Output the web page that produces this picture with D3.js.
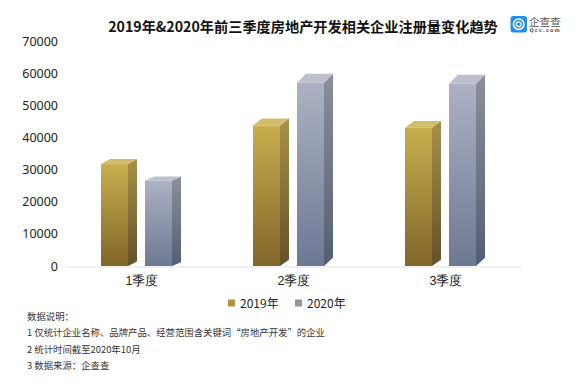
<!DOCTYPE html>
<html>
<head>
<meta charset="utf-8">
<script src="https://cdn.jsdelivr.net/npm/d3@7"></script>
<style>
html, body { margin: 0; padding: 0; background: #fff; }
svg { display: block; font-family: "Noto Sans CJK SC", "Noto Sans", sans-serif; }
</style>
</head>
<body>
<div id="chart"></div>
<script>
const quarters = ['1季度', '2季度', '3季度'];
const seriesNames = ['2019年', '2020年'];
const values2019 = [31700, 43700, 43000];
const values2020 = [26500, 57000, 56700];
const yTicks = [0, 10000, 20000, 30000, 40000, 50000, 60000, 70000];
const titleText = '2019年&2020年前三季度房地产开发相关企业注册量变化趋势';
const notes = [
    '数据说明：',
    '1 仅统计企业名称、品牌产品、经营范围含关键词“房地产开发”的企业',
    '2 统计时间截至2020年10月',
    '3 数据来源：企查查'
];

const width = 582;
const height = 388;
const depthX = 9;

const svg = d3.select('#chart').append('svg')
    .attr('width', width)
    .attr('height', height);

const palettes = [
    {front: ['#c8ae4f', '#836529'], side: ['#a8904a', '#65502a'], top: '#d2bd6c', key: '#b0933c'},
    {front: ['#acb2c3', '#6d7892'], side: ['#8b8f9d', '#545e74'], top: '#bcc0cc', key: '#8d94aa'}
];

const defs = svg.append('defs');
palettes.forEach((p, i) => {
    ['front', 'side'].forEach(part => {
        const g = defs.append('linearGradient')
            .attr('id', `${part}${i}`)
            .attr('x1', 0).attr('y1', 0).attr('x2', 0).attr('y2', 1);
        g.append('stop').attr('offset', '0%').attr('stop-color', p[part][0]);
        g.append('stop').attr('offset', '100%').attr('stop-color', p[part][1]);
    });
});

const x = d3.scaleBand().domain(quarters).range([65, 521]);
const xInner = d3.scaleBand().domain(seriesNames).range([-40, 31]).paddingInner(17 / 44);
const y = d3.scaleLinear().domain([0, 70000]).range([266, 41]);

// the top face gets deeper on taller bars, the picture has some perspective
const depthTop = d => (y(0) - y(d)) * 0.05;
const depthBase = d => depthTop(d) * 0.9;

// axes
const yAxis = d3.axisLeft(y).tickValues(yTicks).tickSize(0).tickPadding(7).tickFormat(d3.format('d'));
const gy = svg.append('g').attr('transform', 'translate(65,0)').call(yAxis);
gy.select('.domain').remove();
gy.selectAll('text').attr('font-size', 12.5).attr('fill', '#222').attr('font-family', '"Noto Sans", sans-serif');

const xAxis = d3.axisBottom(x).tickSize(0).tickPadding(10);
const gx = svg.append('g').attr('transform', 'translate(0,266.5)').call(xAxis);
gx.select('.domain').attr('stroke', '#e2e2e2');
gx.selectAll('text').attr('font-size', 12.5).attr('fill', '#222').attr('dx', 1);

// 3d bars
[values2019, values2020].forEach((vals, i) => {
    const bars = svg.append('g').selectAll('g')
        .data(vals)
        .enter().append('g')
        .attr('transform', (d, j) => `translate(${x(quarters[j]) + x.bandwidth() / 2 + xInner(seriesNames[i])},0)`);
    const w = xInner.bandwidth();

    bars.append('path')
        .attr('fill', `url(#side${i})`)
        .attr('d', d => `M${w},${y(d)}L${w + depthX},${y(d) - depthTop(d)}L${w + depthX},${y(0) - depthBase(d)}L${w},${y(0)}Z`);
    bars.append('path')
        .attr('fill', palettes[i].top)
        .attr('d', d => `M0,${y(d)}L${depthX},${y(d) - depthTop(d)}L${w + depthX},${y(d) - depthTop(d)}L${w},${y(d)}Z`);
    bars.append('rect')
        .attr('x', 0)
        .attr('y', d => y(d))
        .attr('width', w)
        .attr('height', d => y(0) - y(d))
        .attr('fill', `url(#front${i})`);
});

// title
svg.append('text')
    .attr('x', 303).attr('y', 32)
    .attr('text-anchor', 'middle')
    .attr('font-size', 14.2)
    .attr('font-weight', 700)
    .attr('fill', '#111')
    .text(titleText);

// logo
const logo = svg.append('g').attr('transform', 'translate(510.5,16)');
logo.append('rect').attr('width', 16.5).attr('height', 16.5).attr('rx', 3).attr('fill', '#1c8ff0');
logo.append('circle').attr('cx', 8.2).attr('cy', 8.2).attr('r', 5.2)
    .attr('fill', 'none').attr('stroke', '#fff').attr('stroke-width', 1.6);
logo.append('circle').attr('cx', 8.2).attr('cy', 8.2).attr('r', 2.4)
    .attr('fill', 'none').attr('stroke', '#fff').attr('stroke-width', 1.2);
logo.append('text').attr('x', 18.5).attr('y', 9.5).attr('font-size', 10.6).attr('fill', '#555').text('企查查');
logo.append('text').attr('x', 19).attr('y', 16.3).attr('font-size', 5).attr('letter-spacing', 1.1).attr('fill', '#555')
    .attr('font-family', '"DejaVu Sans", sans-serif').attr('font-weight', 700).text('Qcc.com');

// legend
const legendX = [228, 295];
seriesNames.forEach((name, i) => {
    svg.append('rect')
        .attr('x', legendX[i]).attr('y', 299.5)
        .attr('width', 7).attr('height', 7)
        .attr('fill', palettes[i].key);
    svg.append('text')
        .attr('x', legendX[i] + 12).attr('y', 308)
        .attr('font-size', 12)
        .attr('fill', '#222')
        .text(name);
});

// notes
svg.selectAll('text.note')
    .data(notes)
    .enter().append('text')
    .attr('class', 'note')
    .attr('x', 27)
    .attr('y', (d, i) => 319.5 + i * 16.6)
    .attr('font-size', 9.4)
    .attr('fill', '#333')
    .text(d => d);
</script>
</body>
</html>
